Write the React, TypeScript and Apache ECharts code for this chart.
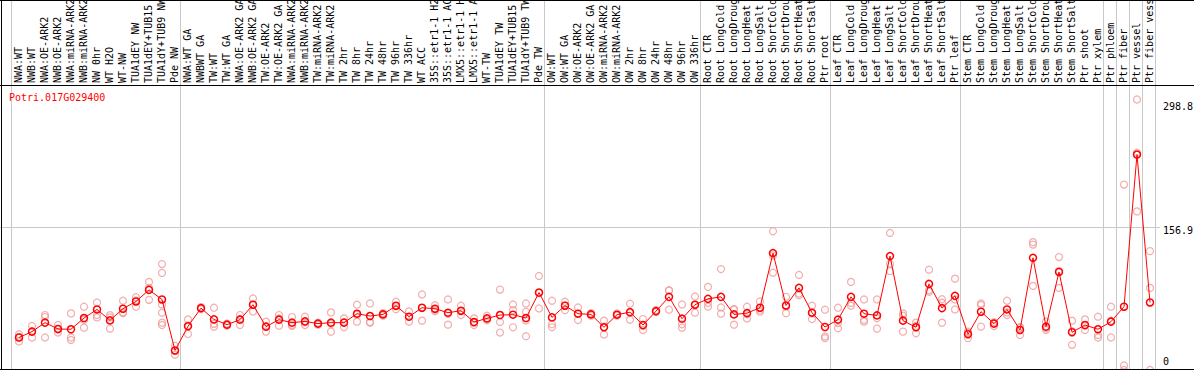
import React, { useEffect, useRef } from "react";
import * as echarts from "echarts";

const chartTitle = "Potri.017G029400";

const categories = [
  "NWA:WT", "NWB:WT", "NWA:OE-ARK2", "NWB:OE-ARK2", "NWA:miRNA-ARK2", "NWB:miRNA-ARK2",
  "NW 0hr", "WT H2O", "WT-NW", "TUA1dEY NW", "TUA1dEY+TUB15", "TUA1dY+TUB9 NW", "Pde NW",
  "NWA:WT GA", "NWBWT GA", "TW:WT", "TW:WT GA", "NWA:OE-ARK2 GA", "NWB:OE-ARK2 GA",
  "TW:OE-ARK2", "TW:OE-ARK2 GA", "NWA:miRNA-ARK2 GA", "NWB:miRNA-ARK2 GA", "TW:miRNA-ARK2",
  "TW:miRNA-ARK2 GA", "TW 2hr", "TW 8hr", "TW 24hr", "TW 48hr", "TW 96hr", "TW 336hr",
  "WT ACC", "35S::etr1-1 H2O", "35S::etr1-1 ACC", "LMX5::etr1-1 H2O", "LMX5::etr1-1 ACC",
  "WT-TW", "TUA1dEY TW", "TUA1dEY+TUB15", "TUA1dY+TUB9 TW", "Pde TW",
  "OW:WT", "OW:WT GA", "OW:OE-ARK2", "OW:OE-ARK2 GA", "OW:miRNA-ARK2", "OW:miRNA-ARK2 GA",
  "OW 2hr", "OW 8hr", "OW 24hr", "OW 48hr", "OW 96hr", "OW 336hr",
  "Root CTR", "Root LongCold", "Root LongDrought", "Root LongHeat", "Root LongSalt",
  "Root ShortCold", "Root ShortDrought", "Root ShortHeat", "Root ShortSalt", "Ptr root",
  "Leaf CTR", "Leaf LongCold", "Leaf LongDrought", "Leaf LongHeat", "Leaf LongSalt",
  "Leaf ShortCold", "Leaf ShortDrought", "Leaf ShortHeat", "Leaf ShortSalt", "Ptr leaf",
  "Stem CTR", "Stem LongCold", "Stem LongDrought", "Stem LongHeat", "Stem LongSalt",
  "Stem ShortCold", "Stem ShortDrought", "Stem ShortHeat", "Stem ShortSalt",
  "Ptr shoot", "Ptr xylem", "Ptr phloem", "Ptr fiber", "Ptr vessel", "Ptr fiber vessel",
];

const meanValues = [
  35.9, 42.4, 52.3, 45.3, 45.0, 57.4, 66.9, 54.8, 67.7, 75.7, 88.5, 77.9, 21.6,
  48.3, 68.3, 55.9, 50.1, 55.6, 72.1, 47.9, 55.6, 52.3, 53.7, 51.2, 52.3, 52.3, 62.2,
  59.6, 61.4, 71.0, 58.9, 68.8, 67.7, 63.3, 65.5, 53.0, 57.0, 60.7, 61.1, 57.4, 85.6,
  58.1, 71.0, 62.2, 61.4, 47.2, 61.1, 63.9, 49.7, 65.0, 80.8, 56.7, 72.1,
  78.6, 80.8, 61.4, 62.8, 68.8, 129.1, 71.3, 90.7, 63.3, 47.5,
  55.6, 80.8, 62.2, 60.3, 125.8, 54.5, 47.2, 95.1, 68.3, 81.9,
  39.5, 64.4, 51.2, 66.9, 44.2, 123.9, 47.9, 108.3, 41.7,
  49.7, 45.0, 53.4, 69.9, 238.0, 74.6,
];

const replicates: number[][] = [
  [39.5, 31.5, 36.7], [48.6, 35.9, 42.7], [60.7, 35.9, 58.5], [49.7, 41.4, 45.0],
  [62.5, 35.9, 33.2], [69.9, 46.8, 55.5], [74.6, 60.7, 58.1], [58.1, 45.7, 60.6],
  [76.5, 62.8, 63.8], [80.4, 69.9, 76.8], [97.3, 77.5, 90.7],
  [117.0, 107.2, 72.4, 63.3, 52.3, 49.7], [26.7, 16.8, 21.3],
  [55.9, 39.8, 49.2], [69.4, 67.2, 68.3], [68.8, 47.9, 51.0], [49.0, 51.2, 50.1],
  [60.7, 49.7, 56.4], [79.0, 64.7, 72.6], [53.4, 42.4, 47.9], [60.7, 49.0, 57.1],
  [58.5, 49.7, 48.7], [58.9, 49.7, 52.5], [51.2, 50.0, 52.4], [63.6, 42.4, 50.9],
  [57.0, 47.2, 52.7], [72.1, 53.4, 61.1], [73.5, 52.3, 53.0], [62.8, 60.0, 61.4],
  [75.4, 67.2, 70.4], [64.7, 53.4, 58.6], [83.4, 54.5, 68.5], [71.6, 65.0, 66.5],
  [77.9, 50.1, 61.9], [71.0, 60.7, 64.8], [57.0, 49.7, 52.3], [60.0, 54.9, 56.1],
  [88.8, 53.0, 41.4], [72.4, 66.1, 47.2], [73.5, 64.4, 54.8, 37.3], [103.9, 68.0, 84.9],
  [76.5, 50.5, 47.2], [75.4, 66.1, 71.5], [69.1, 55.2, 62.3], [61.4, 60.0, 62.8],
  [54.5, 39.2, 47.9], [62.5, 60.0, 60.8], [73.2, 55.6, 62.9], [56.3, 44.2, 48.6],
  [65.0, 64.0, 66.0], [87.7, 66.6, 88.1], [72.4, 50.5, 46.8], [81.2, 63.3, 71.8],
  [91.8, 69.9, 74.1], [111.5, 69.1, 62.2], [66.9, 50.1, 67.2], [69.9, 57.0, 61.5],
  [75.7, 64.4, 66.3], [153.2, 107.5, 126.6], [80.8, 62.8, 70.3], [105.0, 82.6, 84.5],
  [71.0, 56.3, 62.6], [66.6, 37.0, 35.1],
  [68.8, 46.1, 51.9], [97.3, 71.0, 74.1], [77.9, 53.4, 55.3], [77.9, 45.7, 57.3],
  [151.4, 117.4, 109.4], [62.5, 60.0, 42.4], [52.3, 40.6, 48.7], [110.8, 88.1, 86.4],
  [78.2, 52.3, 74.4], [100.9, 66.9, 77.9],
  [35.1, 41.0, 42.4], [73.5, 47.9, 71.8], [48.6, 52.0, 53.0], [76.5, 60.7, 63.5],
  [38.7, 46.5, 47.4], [141.2, 138.5, 92.9], [53.4, 44.2, 46.1], [124.7, 90.7, 109.5],
  [54.5, 27.8, 42.8],
  [55.9, 44.2, 49.0], [58.9, 38.7, 35.9], [69.9, 35.9, 54.4], [204.8, 0, 5.0],
  [298.8, 175.2, 240.0], [131.3, 90.7, 0],
];

const yTickLabels = [0, 156.9, 298.8];
const groupBoundaries = [0, 13, 41, 53, 63, 73, 84, 85, 86, 87, 88];
const yMax = 313.7;

export default function App() {
  const ref = useRef<HTMLDivElement>(null);
  useEffect(() => {
    const chart = echarts.init(ref.current!, null, { renderer: "svg" });
    const mono = '"DejaVu Sans Mono", monospace';
    const repData: number[][] = [];
    replicates.forEach((r, i) => r.forEach((v) => repData.push([i, v])));

    chart.setOption({
      animation: false,
      backgroundColor: "#ffffff",
      grid: { left: 12.5, top: 86, width: 1144, height: 286, containLabel: false },
      xAxis: {
        type: "category",
        data: categories,
        position: "top",
        boundaryGap: true,
        axisLine: { show: false },
        axisTick: { show: false },
        splitLine: { show: false },
        axisLabel: { show: false },
      },
      yAxis: { type: "value", min: 0, max: yMax, show: false },
      series: [
        {
          type: "scatter",
          data: repData,
          symbol: "circle",
          symbolSize: 7,
          silent: true,
          itemStyle: { color: "rgba(0,0,0,0)", borderColor: "#ef9a9a", borderWidth: 1.2 },
          z: 2,
        },
        {
          type: "line",
          data: meanValues,
          symbol: "circle",
          symbolSize: 7,
          showAllSymbol: true,
          silent: true,
          lineStyle: { color: "#ff0000", width: 1 },
          itemStyle: { color: "rgba(0,0,0,0)", borderColor: "#ff0000", borderWidth: 1.5 },
          z: 3,
        },
      ],
    });

    const cx = (i: number) => chart.convertToPixel({ xAxisIndex: 0 }, i) as number;
    const py = (v: number) => chart.convertToPixel({ yAxisIndex: 0 }, v) as number;
    const band = cx(1) - cx(0);
    const boundaryX = (b: number) => cx(0) - band / 2 + b * band;

    const graphics: any[] = [];
    groupBoundaries.forEach((b) => {
      const x = Math.floor(boundaryX(b) - 1.5) + 0.5;
      graphics.push({
        type: "line",
        shape: { x1: x, y1: 0, x2: x, y2: 369 },
        style: { stroke: "#c8c8c8", lineWidth: 1 },
        z: 1,
      });
    });
    const gy = Math.floor(py(yTickLabels[1])) + 0.5;
    graphics.push({
      type: "line",
      shape: { x1: 0, y1: gy, x2: 1160, y2: gy },
      style: { stroke: "#c8c8c8", lineWidth: 1 },
      z: 1,
    });
    const black = (x1: number, y1: number, x2: number, y2: number) => ({
      type: "line",
      shape: { x1, y1, x2, y2 },
      style: { stroke: "#000", lineWidth: 1 },
      z: 5,
    });
    graphics.push(black(0, 0.5, 1194, 0.5));
    graphics.push(black(0, 85.5, 1194, 85.5));
    graphics.push(black(0, 369.5, 1194, 369.5));
    graphics.push(black(1.5, 0, 1.5, 370));

    categories.forEach((name, i) => {
      graphics.push({
        type: "text",
        x: cx(i) - 1,
        y: 83,
        rotation: Math.PI / 2,
        style: { text: name, fill: "#000", fontSize: 10, fontFamily: mono, align: "left", verticalAlign: "middle" },
        z: 6,
      });
    });

    const labelX = 1163;
    graphics.push({
      type: "text",
      x: labelX,
      y: py(yTickLabels[2]) + 2,
      style: { text: String(yTickLabels[2]), fill: "#000", fontSize: 10, fontFamily: mono, verticalAlign: "top", align: "left" },
      z: 6,
    });
    graphics.push({
      type: "text",
      x: labelX,
      y: py(yTickLabels[1]) + 3,
      style: { text: String(yTickLabels[1]), fill: "#000", fontSize: 10, fontFamily: mono, verticalAlign: "middle", align: "left" },
      z: 6,
    });
    graphics.push({
      type: "text",
      x: labelX,
      y: py(yTickLabels[0]) - 4,
      style: { text: String(yTickLabels[0]), fill: "#000", fontSize: 10, fontFamily: mono, verticalAlign: "bottom", align: "left" },
      z: 6,
    });
    graphics.push({
      type: "text",
      x: 9,
      y: 97,
      style: { text: chartTitle, fill: "#ff0000", fontSize: 10, fontFamily: mono, verticalAlign: "middle", align: "left" },
      z: 6,
    });

    chart.setOption({ graphic: graphics });
    return () => chart.dispose();
  }, []);
  return <div ref={ref} style={{ position: "fixed", left: 0, top: 0, width: 1194, height: 370 }} />;
}
